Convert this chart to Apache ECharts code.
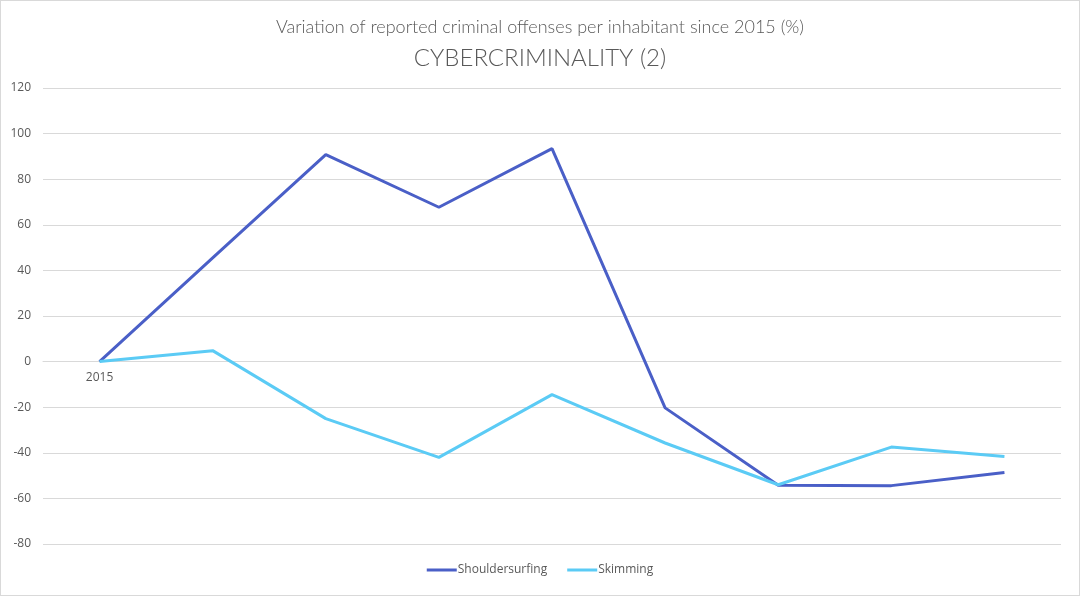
<!DOCTYPE html>
<html>
<head>
    <meta charset="utf-8">
    <title>CYBERCRIMINALITY (2)</title>
    <script src="https://cdn.jsdelivr.net/npm/echarts@6.0.0/dist/echarts.min.js"></script>
    <style>
        body, html {
            margin: 0;
            padding: 0;
            height: 100%;
            overflow: hidden;
            background: #fff;
        }
        #main {
            width: 1078px;
            height: 594px;
            border: 1px solid #d9d9d9;
        }
    </style>
</head>
<body>
    <div id="main"></div>
    <script>
        // years on the x axis (only the first one is labelled in the original)
        const years = ['2015', '2016', '2017', '2018', '2019', '2020', '2021', '2022', '2023'];
        const shouldersurfing = [0, 45.5, 90.8, 67.7, 93.4, -20.3, -54.2, -54.4, -48.6];
        const skimming = [0, 4.8, -25, -42, -14.5, -35.7, -54, -37.5, -41.6];
        const yTicks = { min: -80, max: 120, interval: 20 };

        const chart = echarts.init(document.getElementById('main'));
        const textColor = '#595959';
        const gridColor = '#d9d9d9';

        // the category labels sit under the zero line, not at the bottom of the grid
        const gridTop = 87, gridBottom = 51;
        const plotH = 594 - gridTop - gridBottom;
        const zeroFromBottom = plotH * (0 - yTicks.min) / (yTicks.max - yTicks.min);

        const option = {
            backgroundColor: '#fff',
            title: [{
                text: 'Variation of reported criminal offenses per inhabitant since 2015 (%)',
                left: 'center',
                top: 12,
                textStyle: { color: textColor, fontSize: 18, fontWeight: 300, fontFamily: 'Lato' }
            }, {
                text: 'CYBERCRIMINALITY (2)',
                left: 'center',
                top: 40,
                textStyle: { color: textColor, fontSize: 24, fontWeight: 300, fontFamily: 'Lato' }
            }],
            legend: {
                bottom: 14,
                left: 'center',
                itemWidth: 30,
                itemHeight: 3,
                itemGap: 20,
                icon: 'rect',
                textStyle: { color: textColor, fontSize: 12, fontFamily: 'Open Sans', padding: [0, 0, 0, -4] },
                data: ['Shouldersurfing', 'Skimming']
            },
            grid: { left: 42, right: 18, top: gridTop, bottom: gridBottom, containLabel: false },
            xAxis: {
                type: 'category',
                data: years,
                boundaryGap: true,
                axisLine: { onZero: true, lineStyle: { color: gridColor, width: 1 } },
                axisTick: { show: false },
                axisLabel: {
                    color: textColor,
                    fontSize: 12,
                    fontFamily: 'Open Sans',
                    margin: 10 - zeroFromBottom,
                    formatter: (v, i) => (i === 0 ? v : '')
                },
                splitLine: { show: false }
            },
            yAxis: {
                type: 'value',
                min: yTicks.min,
                max: yTicks.max,
                interval: yTicks.interval,
                axisLine: { show: false },
                axisTick: { show: false },
                axisLabel: { color: textColor, fontSize: 12, fontFamily: 'Open Sans', margin: 12 },
                splitLine: { lineStyle: { color: gridColor, width: 1 } }
            },
            series: [{
                name: 'Shouldersurfing',
                type: 'line',
                data: shouldersurfing,
                symbol: 'none',
                color: '#4a5fc7',
                lineStyle: { width: 3, color: '#4a5fc7' }
            }, {
                name: 'Skimming',
                type: 'line',
                data: skimming,
                symbol: 'none',
                color: '#5bcbf5',
                lineStyle: { width: 3, color: '#5bcbf5' }
            }]
        };

        chart.setOption(option);
        window.addEventListener('resize', () => chart.resize());
    </script>
</body>
</html>
